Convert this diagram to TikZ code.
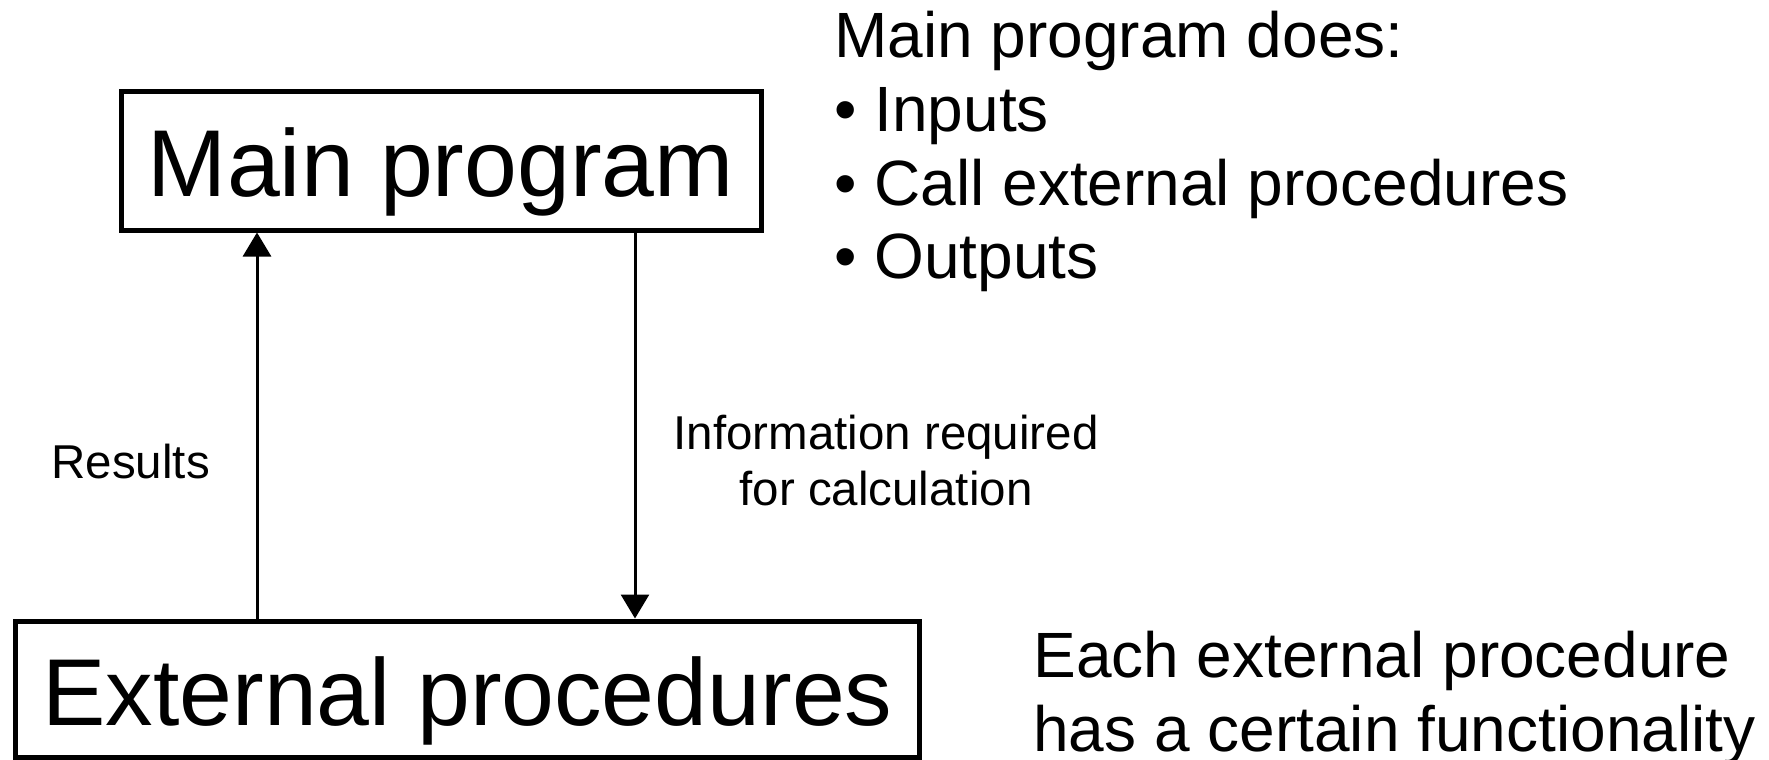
\documentclass[tikz,border=0pt]{standalone}
\usepackage{fontspec}
\setmainfont{Liberation Sans}
\usetikzlibrary{arrows.meta}
\tikzset{
  boxnode/.style={draw, line width=2.5pt, inner sep=0pt, text depth=0pt, text height=36pt,
    font=\fontsize{47.5}{57}\selectfont},
  arr/.style={line width=1.5pt, -{Triangle[length=12pt,width=14pt]}},
  smalltext/.style={inner sep=0pt, font=\fontsize{23.75}{28}\selectfont},
  bigtext/.style={inner sep=0pt, font=\fontsize{32}{37}\selectfont}
}
\begin{document}
\begin{tikzpicture}[x=0.5pt,y=-0.5pt]
\useasboundingbox (0,0) rectangle (1769,760);
\node[boxnode, minimum width=320pt, minimum height=69.5pt] (main) at (441,160.5) {Main program};
\node[boxnode, minimum width=452pt, minimum height=68pt] (ext) at (467.5,689) {External procedures};
\coordinate (lx) at (257,0);
\coordinate (rx) at (635,0);
\draw[arr] (ext.north -| lx) -- (main.south -| lx);
\draw[arr] (main.south -| rx) -- (ext.north -| rx);
\node[smalltext, anchor=base west] (res) at (51,478) {Results};
\node[smalltext, anchor=base] (info) at (886,449) {\vtop{\halign{\hfil#\hfil\cr Information required\cr for calculation\cr}}};
\node[bigtext, anchor=base west] (does) at (834,57) {\vtop{\hbox{Main program does:}\hbox{• Inputs}\hbox{• Call external procedures}\hbox{• Outputs}}};
\node[bigtext, anchor=base west] (each) at (1033,677) {\vtop{\hbox{Each external procedure}\hbox{has a certain functionality}}};
\end{tikzpicture}
\end{document}
